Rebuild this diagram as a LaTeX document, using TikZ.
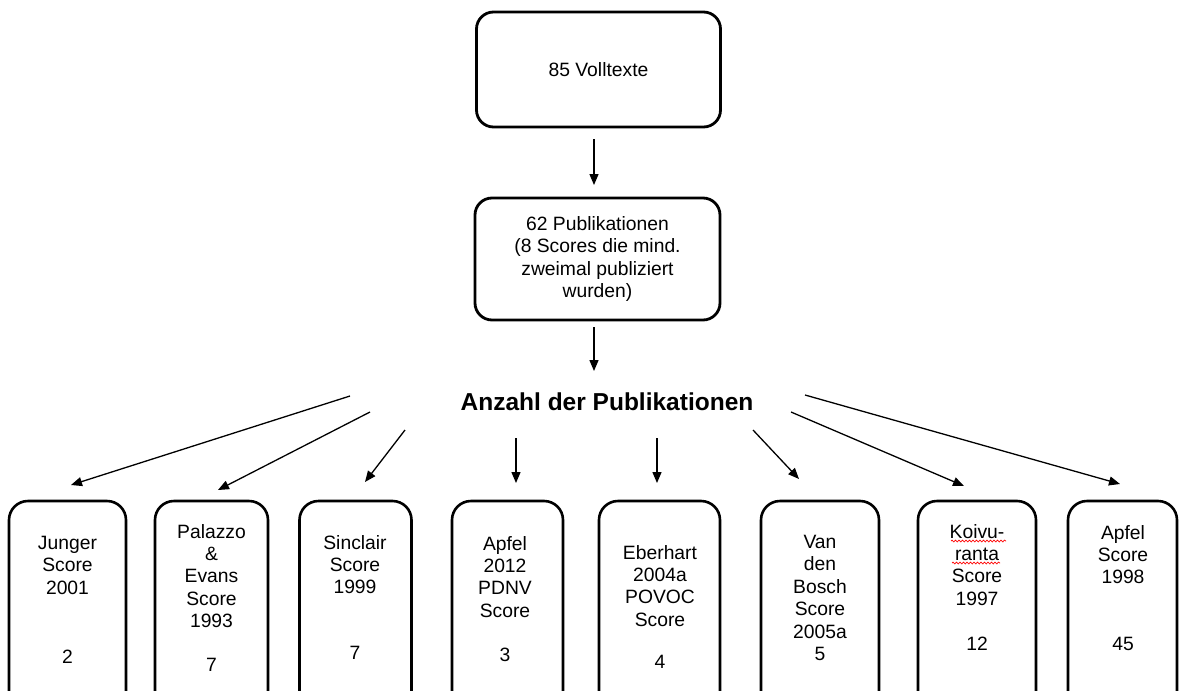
\documentclass[tikz,border=0pt]{standalone}
\usepackage{fontspec}
\setmainfont{Liberation Sans}
\usetikzlibrary{arrows.meta,decorations.pathmorphing}
\begin{document}
\begin{tikzpicture}[x=1pt,y=-1pt,
  topbox/.style={draw, line width=2.8pt, rounded corners=17pt, inner sep=0pt,
    font=\fontsize{19.3}{22.4}\selectfont, align=center},
  sbox/.style={draw, line width=2.6pt, rounded corners=19pt, inner sep=0pt,
    minimum height=219pt},
  txt/.style={font=\fontsize{19.3}{22.4}\selectfont, align=center, inner sep=0pt, anchor=north},
  head/.style={font=\bfseries\fontsize{24.5}{28}\selectfont, inner sep=0pt},
  arr/.style={line width=1.3pt, -{Triangle[length=11pt,width=9pt]}},
  spell/.style={red, line width=0.7pt, decorate,
    decoration={snake, amplitude=0.9pt, segment length=3.5pt}}
]
\useasboundingbox (0,0) rectangle (1179,691);
\clip (0,0) rectangle (1179,691);

% top boxes
\node[topbox, minimum width=244pt, minimum height=115pt] (vt) at (598.5,69.5) {85 Volltexte};
\node[topbox, minimum width=245pt, minimum height=122pt] (pub) at (597.5,259)
  {62 Publikationen\\(8 Scores die mind.\\zweimal publiziert\\wurden)};

\coordinate (a0s) at (594,139);
\coordinate (a0e) at (594,185);
\draw[arr] (a0s) -- (a0e);
\coordinate (a1s) at (594,327);
\coordinate (a1e) at (594,371);
\draw[arr] (a1s) -- (a1e);

% heading
\node[head] (hd) at (607,402) {Anzahl der Publikationen};

% bottom boxes
\node[sbox, minimum width=117pt] (b1) at (67.5,610.5) {};
\node[sbox, minimum width=113pt] (b2) at (211.5,610.5) {};
\node[sbox, minimum width=112pt] (b3) at (355.5,610.5) {};
\node[sbox, minimum width=111pt] (b4) at (507.5,610.5) {};
\node[sbox, minimum width=121pt] (b5) at (659.5,610.5) {};
\node[sbox, minimum width=118pt] (b6) at (820,610.5) {};
\node[sbox, minimum width=118pt] (b7) at (977,610.5) {};
\node[sbox, minimum width=109pt] (b8) at (1122.5,610.5) {};

% texts
\node[txt] (t1) at (67.5,536) {Junger\\Score\\2001};
\node[txt] (n1) at (67.5,650) {2};
\node[txt] (t2) at (211.5,524) {Palazzo\\\&\\Evans\\Score\\1993};
\node[txt] (n2) at (211.5,658) {7};
\node[txt] (t3) at (355,535) {Sinclair\\Score\\1999};
\node[txt] (n3) at (355,646) {7};
\node[txt] (t4) at (505,536) {Apfel\\2012\\PDNV\\Score};
\node[txt] (n4) at (505,648) {3};
\node[txt] (t5) at (660,545) {Eberhart\\2004a\\POVOC\\Score};
\node[txt] (n5) at (660,655) {4};
\node[txt] (t6) at (820,535) {Van\\den\\Bosch\\Score\\2005a\\5};
\node[txt] (t7) at (977,524) {Koivu-\\ranta\\Score\\1997};
\node[txt] (n7) at (977,637) {12};
\node[txt] (t8) at (1123,525) {Apfel\\Score\\1998};
\node[txt] (n8) at (1123,637) {45};

% spell-check underlines
\coordinate (s1a) at (951,541); \coordinate (s1b) at (1006,541);
\coordinate (s2a) at (952,563); \coordinate (s2b) at (1000,563);
\draw[spell] (s1a) -- (s1b);
\draw[spell] (s2a) -- (s2b);

% fan arrows
\coordinate (f1s) at (350,396);  \coordinate (f1e) at (71,485);
\coordinate (f2s) at (370,412);  \coordinate (f2e) at (218,490);
\coordinate (f3s) at (405,430);  \coordinate (f3e) at (365,482);
\coordinate (f4s) at (516,438);  \coordinate (f4e) at (516,483);
\coordinate (f5s) at (657,438);  \coordinate (f5e) at (657,483);
\coordinate (f6s) at (753,430);  \coordinate (f6e) at (799,479);
\coordinate (f7s) at (791,412);  \coordinate (f7e) at (964,486);
\coordinate (f8s) at (805,395);  \coordinate (f8e) at (1120,484);
\foreach \i in {1,...,8} { \draw[arr] (f\i s) -- (f\i e); }
\end{tikzpicture}
\end{document}
